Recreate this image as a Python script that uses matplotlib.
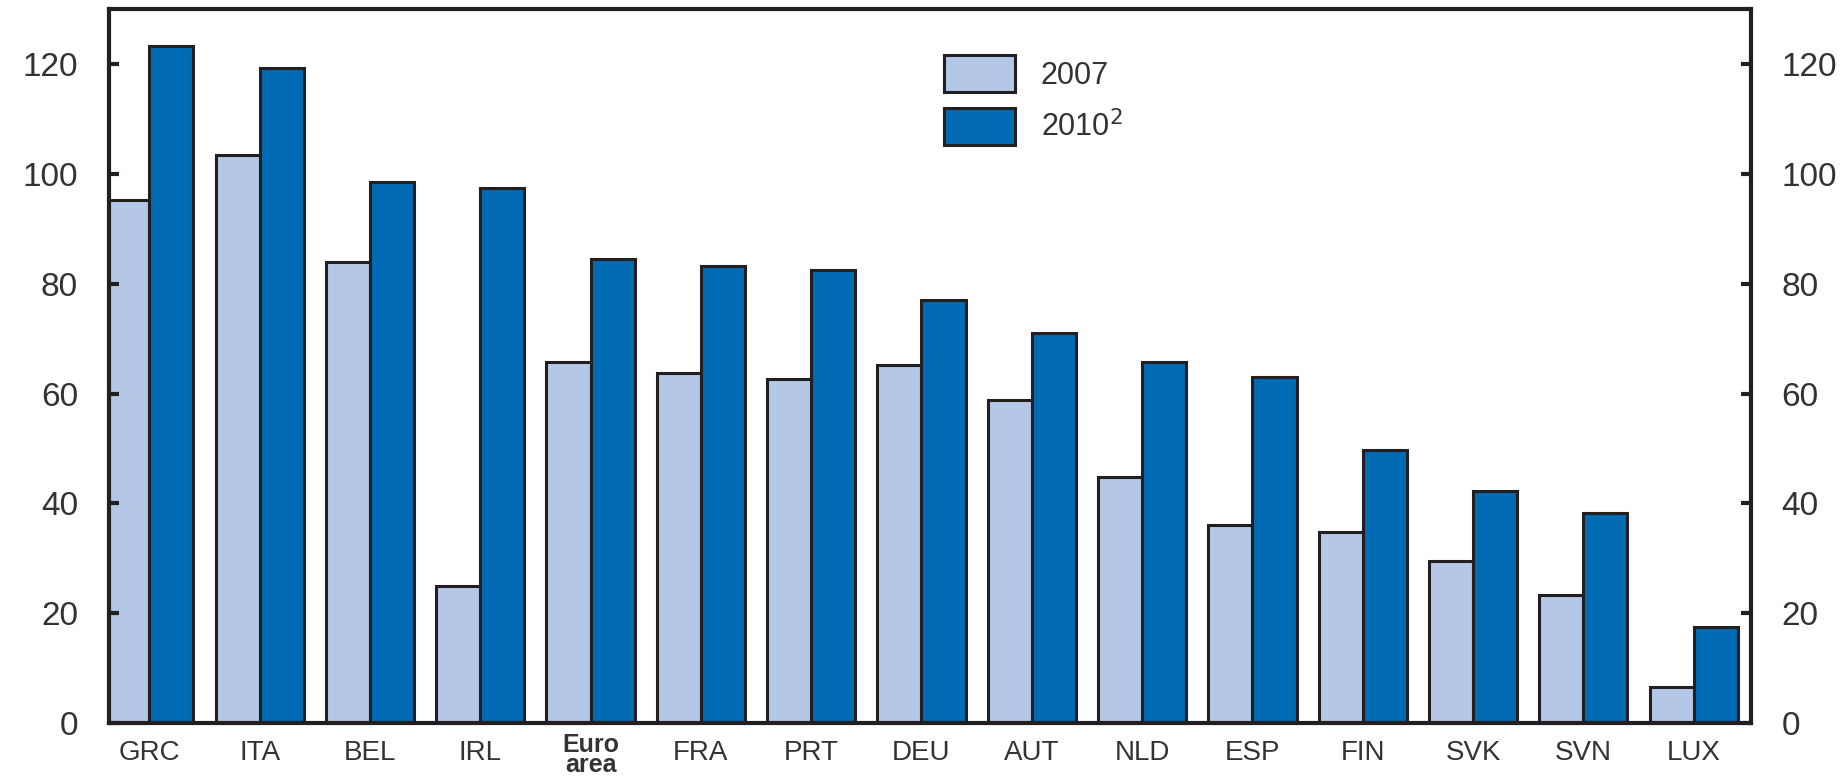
import numpy as np
import matplotlib
matplotlib.use("Agg")
import matplotlib.pyplot as plt
from matplotlib.transforms import ScaledTranslation

# data
countries = ["GRC", "ITA", "BEL", "IRL", "Euro\narea", "FRA", "PRT", "DEU",
             "AUT", "NLD", "ESP", "FIN", "SVK", "SVN", "LUX"]
val_2007 = [95.3, 103.4, 83.9, 24.9, 65.8, 63.7, 62.6, 65.2,
            58.9, 44.9, 36.1, 34.8, 29.5, 23.4, 6.5]
val_2010 = [123.4, 119.4, 98.5, 97.4, 84.5, 83.2, 82.6, 77.0,
            71.0, 65.8, 63.0, 49.7, 42.2, 38.3, 17.4]
yticks = [0, 20, 40, 60, 80, 100, 120]

light = "#B4C7E7"
dark = "#006AB5"
edge = "#231F20"

plt.rcParams['font.family'] = ['Liberation Sans', 'DejaVu Sans']

fig = plt.figure(figsize=(18.49, 7.79), dpi=100)
ax = fig.add_axes([0.0587, 0.0719, 0.947 - 0.0587, 0.988 - 0.0719])

x = np.arange(len(countries))
w = 0.4
ax.bar(x - w/2, val_2007, w, color=light, edgecolor=edge, linewidth=2.2, label="2007")
ax.bar(x + w/2, val_2010, w, color=dark, edgecolor=edge, linewidth=2.2, label="2010$^2$")

ax.set_xlim(-0.37, 14.52)
ax.set_ylim(0, 130)

for s in ax.spines.values():
    s.set_linewidth(3)
    s.set_color(edge)

ax.set_yticks(yticks)
ax.tick_params(axis='y', direction='in', length=7, width=3, color=edge,
               labelsize=24, pad=22, left=True, right=True,
               labelleft=True, labelright=True, labelcolor="#333333")
ax.set_xticks(x)
ax.set_xticklabels(countries)
ax.tick_params(axis='x', length=0, labelsize=20, pad=12, labelcolor="#333333")
for lab in ax.get_xticklabels():
    if lab.get_text().startswith("Euro"):
        lab.set_fontweight("bold")
        lab.set_fontsize(18)
        lab.set_linespacing(0.78)
        lab.set_transform(lab.get_transform() +
                          ScaledTranslation(0, 5/72, fig.dpi_scale_trans))

leg = ax.legend(loc='upper left', bbox_to_anchor=(929/1849, 1 - 40/779),
                bbox_transform=fig.transFigure, frameon=False, borderpad=0,
                handlelength=2.3, handleheight=1.45, labelspacing=0.55,
                handletextpad=0.85, fontsize=22)
for t in leg.get_texts():
    t.set_color("#333333")

fig.savefig("out.png", dpi=100)
